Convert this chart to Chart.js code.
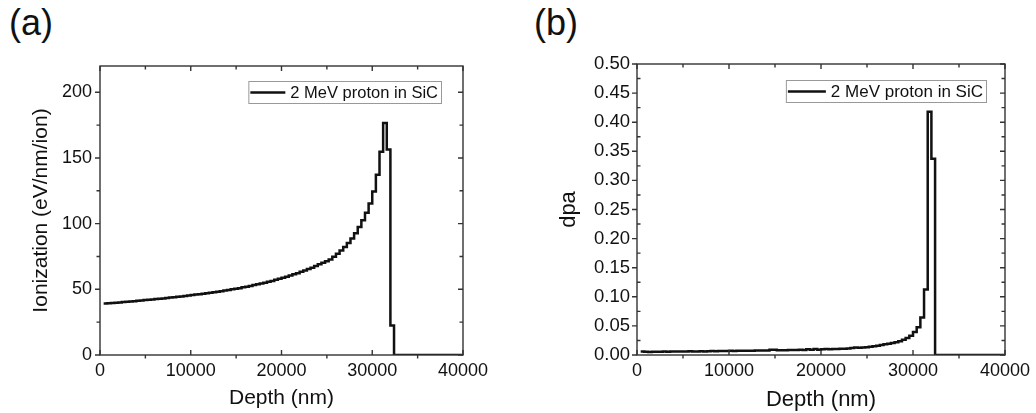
<!DOCTYPE html>
<html>
<head>
<meta charset="utf-8">
<script src="https://cdn.jsdelivr.net/npm/chart.js@4.4.1/dist/chart.umd.min.js"></script>
<style>
body { margin:0; background:#fff; width:1036px; height:413px; overflow:hidden; position:relative; font-family:"Liberation Sans", Arial, sans-serif; }
.painel { position:absolute; top:0; }
.rotulo { position:absolute; font-size:36px; color:#111; line-height:1; }
</style>
</head>
<body>
<div class="rotulo" style="left:9px;top:5px">(a)</div>
<div class="rotulo" style="left:534px;top:5px">(b)</div>
<canvas id="graficoA" class="painel" width="518" height="413" style="left:0"></canvas>
<canvas id="graficoB" class="painel" width="518" height="413" style="left:518px"></canvas>
<script>
const FONTE = '"Liberation Sans", Arial, sans-serif';
const rotuloSerie = "2 MeV proton in SiC";

// profundidade de cada bin (nm)
const profundidade = [
    400, 800, 1200, 1600, 2000, 2400, 2800, 3200, 3600, 4000,
    4400, 4800, 5200, 5600, 6000, 6400, 6800, 7200, 7600, 8000,
    8400, 8800, 9200, 9600, 10000, 10400, 10800, 11200, 11600, 12000,
    12400, 12800, 13200, 13600, 14000, 14400, 14800, 15200, 15600, 16000,
    16400, 16800, 17200, 17600, 18000, 18400, 18800, 19200, 19600, 20000,
    20400, 20800, 21200, 21600, 22000, 22400, 22800, 23200, 23600, 24000,
    24400, 24800, 25200, 25600, 26000, 26400, 26800, 27200, 27600, 28000,
    28400, 28800, 29200, 29600, 30000, 30400, 30800, 31200, 31600, 32000,
    32400, 32800, 33200, 33600, 34000, 34400, 34800, 35200, 35600, 36000,
    36400, 36800, 37200, 37600, 38000, 38400, 38800, 39200, 39600, 40000
];

// (a) ionizacao (eV/nm/ion)
const ionizacao = [
    39.2, 39.4, 39.6, 39.8, 40.0, 40.3, 40.5, 40.8, 41.0, 41.3,
    41.5, 41.8, 42.0, 42.3, 42.6, 42.9, 43.1, 43.4, 43.7, 44.0,
    44.3, 44.6, 45.0, 45.3, 45.6, 46.0, 46.3, 46.7, 47.0, 47.4,
    47.8, 48.2, 48.6, 49.1, 49.5, 50.0, 50.4, 50.9, 51.5, 52.0,
    52.6, 53.2, 53.8, 54.4, 55.0, 55.7, 56.4, 57.2, 58.0, 58.8,
    59.6, 60.5, 61.4, 62.3, 63.3, 64.3, 65.4, 66.5, 67.7, 69.0,
    70.2, 71.4, 72.7, 74.8, 77.0, 79.5, 82.2, 85.3, 88.7, 92.7,
    97.4, 102.6, 108.2, 115.3, 124.5, 137.2, 154.8, 176.7, 156.5, 22.5,
    0, 0, 0, 0, 0, 0, 0, 0, 0, 0,
    0, 0, 0, 0, 0, 0, 0, 0, 0, 0
];

// (b) dpa
const dpa = [
    0.0060, 0.0055, 0.0053, 0.0055, 0.0056, 0.0054, 0.0058, 0.0057, 0.0060, 0.0062,
    0.0059, 0.0061, 0.0060, 0.0063, 0.0061, 0.0062, 0.0064, 0.0062, 0.0066, 0.0068,
    0.0065, 0.0067, 0.0069, 0.0068, 0.0071, 0.0070, 0.0072, 0.0071, 0.0074, 0.0073,
    0.0075, 0.0077, 0.0076, 0.0079, 0.0078, 0.0092, 0.0090, 0.0082, 0.0083, 0.0081,
    0.0084, 0.0086, 0.0085, 0.0090, 0.0087, 0.0098, 0.0091, 0.0105, 0.0092, 0.0099,
    0.0101, 0.0097, 0.0103, 0.0101, 0.0108, 0.0106, 0.0112, 0.0119, 0.0131, 0.0124,
    0.0127, 0.0135, 0.0142, 0.0150, 0.0158, 0.0170, 0.0185, 0.0194, 0.0208, 0.0221,
    0.0238, 0.0262, 0.0290, 0.0330, 0.0395, 0.0475, 0.0645, 0.1125, 0.4180, 0.3370,
    0, 0, 0, 0, 0, 0, 0, 0, 0, 0,
    0, 0, 0, 0, 0, 0, 0, 0, 0, 0
];

// marcas dos eixos
const ticksX = [0, 10000, 20000, 30000, 40000];
const ticksXMenor = [5000, 15000, 25000, 35000];
const ticksYA = [0, 50, 100, 150, 200];
const ticksYAMenor = [25, 75, 125, 175];
const ticksYB = [0, 0.05, 0.10, 0.15, 0.20, 0.25, 0.30, 0.35, 0.40, 0.45, 0.50];
const ticksYBMenor = [0.025, 0.075, 0.125, 0.175, 0.225, 0.275, 0.325, 0.375, 0.425, 0.475];

// moldura com marcas nos quatro lados
const moldura = {
    id: "moldura",
    afterDraw(chart, args, op) {
        const { ctx, chartArea: a, scales: { x, y } } = chart;
        ctx.save();
        ctx.strokeStyle = "#333";
        ctx.lineWidth = 1.4;
        ctx.beginPath();
        const linha = (x1, y1, x2, y2) => { ctx.moveTo(x1, y1); ctx.lineTo(x2, y2); };
        op.xMaior.forEach(v => {
            const px = x.getPixelForValue(v);
            linha(px, a.bottom, px, a.bottom - 5);
            linha(px, a.top, px, a.top + 5);
        });
        op.xMenor.forEach(v => {
            const px = x.getPixelForValue(v);
            linha(px, a.bottom, px, a.bottom + 3.5);
            linha(px, a.top, px, a.top + 3.5);
        });
        op.yMaior.forEach(v => {
            const py = y.getPixelForValue(v);
            linha(a.left, py, a.left - 5, py);
            linha(a.right, py, a.right - 5, py);
        });
        op.yMenor.forEach(v => {
            const py = y.getPixelForValue(v);
            linha(a.left, py, a.left + (op.menorDentro ? 3.5 : -3.5), py);
            linha(a.right, py, a.right - 3.5, py);
        });
        ctx.stroke();
        ctx.strokeRect(a.left, a.top, a.right - a.left, a.bottom - a.top);
        ctx.restore();
    }
};

// caixa de legenda dentro da area do grafico
const legendaCaixa = {
    id: "legendaCaixa",
    afterDatasetsDraw(chart, args, op) {
        const { ctx, chartArea: a } = chart;
        const ds = chart.data.datasets[0];
        ctx.save();
        ctx.font = op.fonte + "px " + FONTE;
        const larguraTexto = ctx.measureText(ds.label).width;
        const w = 2 + op.amostra + 5 + larguraTexto + 3;
        const bx = a.right - op.direita - w;
        const by = a.top + op.topo;
        ctx.fillStyle = "#fff";
        ctx.fillRect(bx, by, w, op.altura);
        ctx.strokeStyle = "#999";
        ctx.lineWidth = 1;
        ctx.strokeRect(bx + 0.5, by + 0.5, w, op.altura);
        ctx.strokeStyle = "#111";
        ctx.lineWidth = 2.5;
        ctx.beginPath();
        ctx.moveTo(bx + 2, by + op.altura / 2 + 0.5);
        ctx.lineTo(bx + 2 + op.amostra, by + op.altura / 2 + 0.5);
        ctx.stroke();
        ctx.fillStyle = "#111";
        ctx.textBaseline = "middle";
        ctx.fillText(ds.label, bx + 7 + op.amostra, by + op.altura / 2 + 1);
        ctx.restore();
    }
};

function criarGrafico(id, valores, cfg) {
    return new Chart(document.getElementById(id), {
        type: "line",
        data: {
            datasets: [{
                label: rotuloSerie,
                data: profundidade.map((p, i) => ({ x: p, y: valores[i] })),
                stepped: "before",
                borderColor: "#111",
                borderWidth: 2.5,
                pointRadius: 0,
                fill: false
            }]
        },
        options: {
            responsive: false,
            animation: false,
            devicePixelRatio: 1,
            layout: { padding: { top: cfg.topo, right: cfg.direita, left: 0, bottom: 0 } },
            plugins: {
                legend: { display: false },
                tooltip: { enabled: false },
                moldura: { xMaior: ticksX, xMenor: ticksXMenor, yMaior: cfg.yMaior, yMenor: cfg.yMenor, menorDentro: cfg.menorDentro },
                legendaCaixa: cfg.legenda
            },
            scales: {
                x: {
                    type: "linear",
                    min: 0,
                    max: 40000,
                    afterBuildTicks: s => { s.ticks = ticksX.map(v => ({ value: v })); },
                    afterFit: s => { s.height = cfg.alturaX; },
                    grid: { display: false, drawTicks: false },
                    border: { display: false },
                    ticks: {
                        callback: v => String(v),
                        font: { family: FONTE, size: 18 },
                        color: "#111",
                        padding: 5,
                        maxRotation: 0,
                        autoSkip: false
                    },
                    title: {
                        display: true,
                        text: "Depth (nm)",
                        font: { family: FONTE, size: cfg.fonteTitulo },
                        color: "#111",
                        padding: { top: 0, bottom: cfg.tituloX }
                    }
                },
                y: {
                    type: "linear",
                    min: 0,
                    max: cfg.yMax,
                    afterBuildTicks: s => { s.ticks = cfg.yMaior.map(v => ({ value: v })); },
                    afterFit: s => { s.width = cfg.larguraY; },
                    grid: { display: false, drawTicks: false },
                    border: { display: false },
                    ticks: {
                        callback: cfg.formato,
                        font: { family: FONTE, size: cfg.fonteTicksY },
                        color: "#111",
                        padding: cfg.padY,
                        autoSkip: false
                    },
                    title: {
                        display: true,
                        text: cfg.tituloTexto,
                        font: { family: FONTE, size: cfg.fonteTitulo },
                        color: "#111",
                        padding: { top: cfg.tituloY, bottom: 0 }
                    }
                }
            }
        },
        plugins: [moldura, legendaCaixa]
    });
}

criarGrafico("graficoA", ionizacao, {
    topo: 66, direita: 55, alturaX: 58, larguraY: 100,
    yMax: 220, yMaior: ticksYA, yMenor: ticksYAMenor, menorDentro: false,
    formato: v => String(v), fonteTicksY: 18, padY: 8,
    tituloTexto: "Ionization (eV/nm/ion)", fonteTitulo: 21, tituloY: 29, tituloX: 2,
    legenda: { direita: 22, topo: 15, altura: 22, fonte: 16.5, amostra: 35 }
});

criarGrafico("graficoB", dpa, {
    topo: 64, direita: 31, alturaX: 58, larguraY: 119,
    yMax: 0.5, yMaior: ticksYB, yMenor: ticksYBMenor, menorDentro: true,
    formato: v => v.toFixed(2), fonteTicksY: 18.5, padY: 7,
    tituloTexto: "dpa", fonteTitulo: 22, tituloY: 38, tituloX: 0,
    legenda: { direita: 19, topo: 16, altura: 22, fonte: 17, amostra: 38 }
});
</script>
</body>
</html>
